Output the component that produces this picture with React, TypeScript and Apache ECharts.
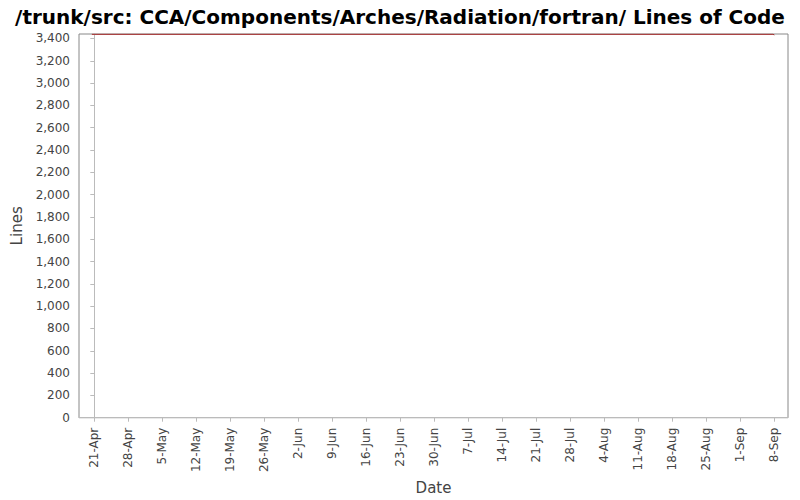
import { useEffect, useRef } from 'react';
import * as echarts from 'echarts';

// days measured from 21-Apr
const MONTHS = ['Jan', 'Feb', 'Mar', 'Apr', 'May', 'Jun', 'Jul', 'Aug', 'Sep', 'Oct', 'Nov', 'Dec'];
const BASE = Date.UTC(2008, 3, 21);
const DAY = 86400000;

const tickDays = [0, 7, 14, 21, 28, 35, 42, 49, 56, 63, 70, 77, 84, 91, 98, 105, 112, 119, 126, 133, 140];
const pointDays = [-0.5, 139.7, 140];
const lineValues = [3437, 3437, 3432];
const yTicks = [0, 200, 400, 600, 800, 1000, 1200, 1400, 1600, 1800, 2000, 2200, 2400, 2600, 2800, 3000, 3200, 3400];

function dayLabel(d: number): string {
  const dt = new Date(BASE + Math.round(d) * DAY);
  return dt.getUTCDate() + '-' + MONTHS[dt.getUTCMonth()];
}

export default function App() {
  const ref = useRef<HTMLDivElement>(null);

  useEffect(() => {
    if (!ref.current) return;
    const chart = echarts.init(ref.current, null, { renderer: 'svg' });
    const font = 'DejaVu Sans, sans-serif';

    chart.setOption({
      animation: false,
      backgroundColor: '#fff',
      textStyle: { fontFamily: font },
      title: {
        text: '/trunk/src: CCA/Components/Arches/Radiation/fortran/ Lines of Code',
        left: 'center',
        top: 2,
        textStyle: { fontSize: 20, fontWeight: 'bold', color: '#000', fontFamily: font },
      },
      grid: {
        left: 79, right: 12, top: 34, bottom: 79,
        show: true, borderColor: '#888', borderWidth: 1, backgroundColor: '#fff',
      },
      xAxis: {
        type: 'value',
        min: -3.15,
        max: 142.8,
        offset: 4,
        name: 'Date',
        nameLocation: 'middle',
        nameGap: 55,
        nameTextStyle: { fontSize: 15, color: '#444', fontFamily: font },
        axisLine: { show: true, lineStyle: { color: '#bbb' } },
        axisTick: { show: true, customValues: tickDays, length: 4, lineStyle: { color: '#bbb' } },
        axisLabel: {
          customValues: tickDays,
          rotate: 90,
          fontSize: 12,
          color: '#444',
          margin: 6,
          formatter: (v: number) => dayLabel(v),
        },
        splitLine: { show: false },
      },
      yAxis: {
        type: 'value',
        min: 0,
        max: 3440,
        offset: 3,
        name: 'Lines',
        nameLocation: 'middle',
        nameGap: 52,
        nameTextStyle: { fontSize: 15, color: '#444', fontFamily: font },
        axisLine: { show: true, lineStyle: { color: '#bbb' } },
        axisTick: { show: true, customValues: yTicks, length: 4, lineStyle: { color: '#bbb' } },
        axisLabel: {
          customValues: yTicks,
          fontSize: 12,
          color: '#444',
          margin: 6,
          formatter: (v: number) => v.toLocaleString('en-US'),
        },
        splitLine: { show: false },
      },
      series: [{
        type: 'line',
        data: pointDays.map((d, i) => [d, lineValues[i]]),
        showSymbol: false,
        lineStyle: { color: '#a52a2a', width: 1 },
        clip: false,
      }],
    });

    return () => chart.dispose();
  }, []);

  return <div ref={ref} style={{ position: 'fixed', left: 0, top: 0, width: 800, height: 500 }} />;
}
